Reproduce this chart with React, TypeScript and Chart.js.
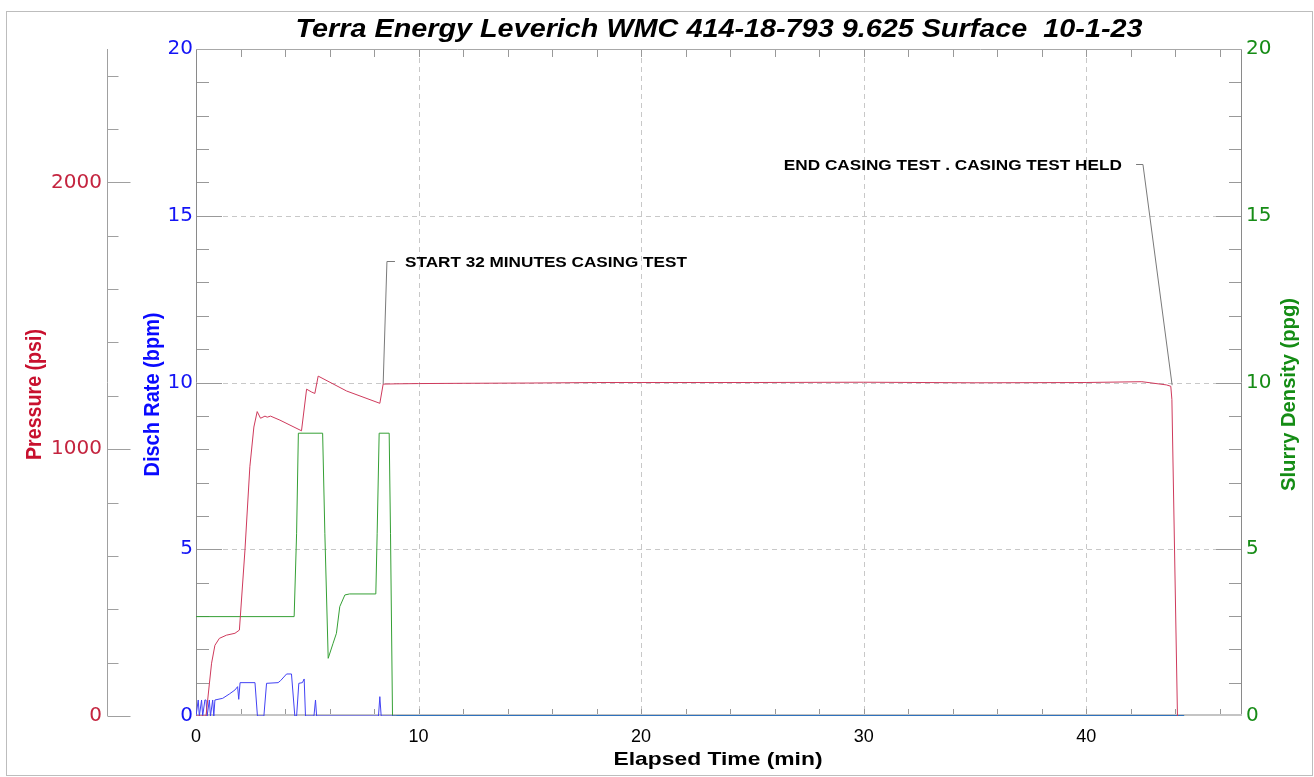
import React, { useEffect, useRef } from 'react';
import { Chart, registerables } from 'chart.js';

Chart.register(...registerables);

const TITLE = 'Terra Energy Leverich WMC 414-18-793 9.625 Surface  10-1-23';
const X_TITLE = 'Elapsed Time (min)';
const PRESSURE_TITLE = 'Pressure (psi)';
const RATE_TITLE = 'Disch Rate (bpm)';
const DENSITY_TITLE = 'Slurry Density (ppg)';

const xTicks = [0, 10, 20, 30, 40];
const pressureTicks = [0, 1000, 2000];
const rateTicks = [0, 5, 10, 15, 20];
const densityTicks = [0, 5, 10, 15, 20];

const pressureTime = [0, 0.45, 0.6, 0.7, 0.85, 1.05, 1.37, 1.75, 1.95, 2.2, 2.42, 2.6, 2.75, 2.9, 3.1, 3.2, 3.35, 3.77, 4.74, 4.97, 5.2, 5.34, 5.49, 6.77, 8.26, 8.41, 9, 10, 12, 15, 18, 20, 25, 30, 35, 40, 42.5, 43.6, 43.8, 43.85, 44.1];
const pressureValues = [0, 0, 120, 198, 265, 291, 303, 310, 322, 622, 934, 1083, 1141, 1116, 1124, 1120, 1124, 1109, 1069, 1225, 1214, 1209, 1274, 1218, 1172, 1244, 1245, 1246, 1247, 1248, 1250, 1250, 1250, 1251, 1249, 1250, 1253, 1241, 1236, 1186, 0];

const rateTime = [0, 0.1, 0.15, 0.25, 0.3, 0.4, 0.45, 0.5, 0.6, 0.65, 0.75, 0.8, 0.85, 1.2, 1.5, 1.75, 1.87, 1.92, 1.98, 2.65, 2.76, 3.05, 3.17, 3.69, 3.8, 4.07, 4.29, 4.44, 4.52, 4.62, 4.78, 4.86, 4.92, 5.3, 5.37, 5.42, 8.2, 8.26, 8.32, 9, 44.4];
const rateValues = [0, 0.48, 0, 0.48, 0, 0.48, 0.48, 0, 0.48, 0, 0.48, 0, 0.48, 0.53, 0.66, 0.78, 0.88, 0.5, 1.0, 1.0, 0, 0, 0.98, 1.0, 1.06, 1.26, 1.26, 0, 0, 0.98, 1.0, 1.11, 0, 0, 0.48, 0, 0, 0.58, 0, 0, 0];

const densityTime = [0, 4.41, 4.52, 4.6, 5.69, 5.79, 5.94, 6.16, 6.31, 6.46, 6.69, 6.9, 8.08, 8.14, 8.23, 8.68, 8.74, 8.83, 44.4];
const densityValues = [2.98, 2.98, 5.48, 8.48, 8.48, 5.48, 1.73, 2.18, 2.48, 3.28, 3.63, 3.66, 3.66, 5.48, 8.48, 8.48, 5.48, 0, 0];

// annotation leaders, in data units (t = minutes, p = psi, r = rate-axis units)
const startNote = { text: 'START 32 MINUTES CASING TEST', anchorT: 8.41, anchorP: 1244, elbowT: 8.58, elbowR: 13.64, endT: 8.94, textT: 9.39 };
const endNote = { text: 'END CASING TEST . CASING TEST HELD', anchorT: 43.86, anchorP: 1240, elbowT: 42.55, elbowR: 16.55, endT: 42.24, textT: 41.6 };

const PRESSURE_COLOR = '#c4243f';
const RATE_COLOR = '#1414f5';
const DENSITY_COLOR = '#168c16';
const SANS = '"Liberation Sans", Arial, sans-serif';
const NARROW = '"Liberation Sans Narrow", "Liberation Sans", Arial, sans-serif';
const WIDE = '"DejaVu Sans", Verdana, sans-serif';

function fitText(ctx: CanvasRenderingContext2D, text: string, x: number, y: number, targetW: number, font: string, color: string, align: CanvasTextAlign, rot = 0) {
  ctx.save();
  ctx.font = font;
  ctx.fillStyle = color;
  ctx.textBaseline = 'alphabetic';
  ctx.textAlign = align;
  const w = ctx.measureText(text).width;
  const sx = w > 0 ? targetW / w : 1;
  ctx.translate(x, y);
  ctx.rotate(rot);
  ctx.scale(sx, 1);
  ctx.fillText(text, 0, 0);
  ctx.restore();
}

function seg(ctx: CanvasRenderingContext2D, x1: number, y1: number, x2: number, y2: number) {
  ctx.beginPath();
  ctx.moveTo(x1, y1);
  ctx.lineTo(x2, y2);
  ctx.stroke();
}

const decorPlugin = {
  id: 'decor',
  beforeDraw(chart: any) {
    const { ctx, width, height } = chart;
    ctx.save();
    ctx.fillStyle = '#ffffff';
    ctx.fillRect(0, 0, width, height);
    ctx.restore();
  },
  beforeDatasetsDraw(chart: any) {
    const { ctx, chartArea: a, scales } = chart;
    const x = scales.x, yR = scales.yR, yP = scales.yP;
    const L = Math.round(a.left) + 0.5, R = Math.round(a.right) - 0.5;
    const T = Math.round(a.top) + 0.5, B = Math.round(a.bottom) - 0.5;
    ctx.save();
    ctx.lineWidth = 1;
    // dashed grid
    ctx.strokeStyle = '#c8c8c8';
    ctx.setLineDash([5, 4]);
    xTicks.filter(v => v > 0).forEach(v => {
      const px = Math.round(x.getPixelForValue(v)) + 0.5;
      seg(ctx, px, a.top, px, a.bottom);
    });
    rateTicks.filter(v => v > 0 && v < 20).forEach(v => {
      const py = Math.round(yR.getPixelForValue(v)) + 0.5;
      seg(ctx, a.left, py, a.right, py);
    });
    ctx.setLineDash([]);
    // tick marks
    ctx.strokeStyle = '#999999';
    for (let t = 2; t < 47; t += 2) {
      const px = Math.round(x.getPixelForValue(t)) + 0.5;
      seg(ctx, px, a.top, px, a.top + 8);
      seg(ctx, px, a.bottom, px, a.bottom - 7);
    }
    for (let v = 1; v < 20; v++) {
      const py = Math.round(yR.getPixelForValue(v)) + 0.5;
      const len = v % 5 === 0 ? 26 : 13;
      seg(ctx, a.left, py, a.left + len, py);
      seg(ctx, a.right, py, a.right - len, py);
    }
    // pressure axis
    const pxAxis = Math.round(yP.right) + 0.5;
    ctx.strokeStyle = '#a0a0a0';
    seg(ctx, pxAxis, yP.getPixelForValue(2500), pxAxis, yP.getPixelForValue(0));
    for (let v = 0; v <= 2400; v += 200) {
      const py = Math.round(yP.getPixelForValue(v)) + 0.5;
      const len = v % 1000 === 0 ? 23 : 11;
      seg(ctx, pxAxis, py, pxAxis + len, py);
    }
    // plot frame
    ctx.strokeStyle = '#8a8a8a';
    seg(ctx, L, a.top, L, a.bottom);
    seg(ctx, R, a.top, R, a.bottom);
    ctx.strokeStyle = '#a8a8a8';
    seg(ctx, a.left, T, a.right, T);
    ctx.strokeStyle = '#c4c4c4';
    ctx.lineWidth = 2;
    seg(ctx, a.left, B - 0.5, a.right, B - 0.5);
    ctx.restore();
  },
  afterDraw(chart: any) {
    const { ctx, chartArea: a, scales, width, height } = chart;
    const x = scales.x, yR = scales.yR, yP = scales.yP;
    ctx.save();
    // outer border
    ctx.strokeStyle = '#bdbdbd';
    ctx.lineWidth = 1;
    ctx.strokeRect(6.5, 11.5, width - 8, height - 13);
    // title
    const cx = (a.left + a.right) / 2;
    fitText(ctx, TITLE, cx, 37, 847, `italic bold 25px ${SANS}`, '#000', 'center');
    fitText(ctx, X_TITLE, cx - 1, 765, 209, `bold 19px ${NARROW}`, '#000', 'center');
    const cy = (a.top + a.bottom) / 2 + 12;
    fitText(ctx, PRESSURE_TITLE, 41, cy, 131, `bold 22px ${NARROW}`, '#c8102e', 'center', -Math.PI / 2);
    fitText(ctx, RATE_TITLE, 159, cy, 164, `bold 22px ${NARROW}`, '#0a0aff', 'center', -Math.PI / 2);
    fitText(ctx, DENSITY_TITLE, 1295, cy, 193, `bold 21px ${NARROW}`, '#148c14', 'center', -Math.PI / 2);
    // annotations
    ctx.strokeStyle = '#7a7a7a';
    ctx.lineWidth = 1;
    const notes = [startNote, endNote];
    notes.forEach((n, i) => {
      const ax = x.getPixelForValue(n.anchorT), ay = yP.getPixelForValue(n.anchorP);
      const ex = x.getPixelForValue(n.elbowT), ey = Math.round(yR.getPixelForValue(n.elbowR)) + 0.5;
      const hx = x.getPixelForValue(n.endT);
      ctx.beginPath();
      ctx.moveTo(ax, ay);
      ctx.lineTo(ex, ey);
      ctx.lineTo(hx, ey);
      ctx.stroke();
      const tx = x.getPixelForValue(n.textT);
      const w = i === 0 ? 282 : 338;
      fitText(ctx, n.text, tx, ey + 5.5, w, `bold 15px ${SANS}`, '#000', i === 0 ? 'left' : 'right');
    });
    ctx.restore();
  },
};

const toPts = (ts: number[], vs: number[]) => ts.map((t, i) => ({ x: t, y: vs[i] }));

export default function App() {
  const ref = useRef<HTMLCanvasElement | null>(null);
  useEffect(() => {
    if (!ref.current) return;
    const chart = new Chart(ref.current, {
      type: 'line',
      data: {
        datasets: [
          {
            label: 'Pressure',
            data: toPts(pressureTime, pressureValues),
            yAxisID: 'yP',
            borderColor: '#cf3a5c',
            borderWidth: 1,
            pointRadius: 0,
            tension: 0,
          },
          {
            label: 'Disch Rate',
            data: toPts(rateTime, rateValues),
            yAxisID: 'yR',
            borderColor: '#4242f4',
            borderWidth: 1,
            pointRadius: 0,
            tension: 0,
            segment: {
              borderColor: (c: any) => (c.p0.parsed.x >= 8.8 ? '#2f72bd' : undefined),
              borderWidth: (c: any) => (c.p0.parsed.x >= 8.8 ? 2 : undefined),
            },
          },
          {
            label: 'Slurry Density',
            data: toPts(densityTime, densityValues),
            yAxisID: 'yD',
            borderColor: '#35a035',
            borderWidth: 1,
            pointRadius: 0,
            tension: 0,
          },
        ],
      } as any,
      options: {
        animation: false,
        responsive: false,
        devicePixelRatio: 1,
        events: [],
        layout: { padding: { top: 49, left: 0, right: 0, bottom: 0 } },
        plugins: { legend: { display: false }, title: { display: false }, tooltip: { enabled: false } },
        scales: {
          x: {
            type: 'linear',
            position: 'bottom',
            min: 0,
            max: 47,
            grid: { display: false, drawTicks: false },
            border: { display: false },
            afterBuildTicks: (s: any) => { s.ticks = xTicks.map(v => ({ value: v })); },
            afterFit: (s: any) => { s.height = 61; },
            ticks: { color: '#000', font: { family: NARROW, size: 18 }, padding: 10, maxRotation: 0, autoSkip: false, callback: (v: any) => String(v) },
          },
          yP: {
            type: 'linear',
            position: 'left',
            weight: 10,
            min: 0,
            max: 2500,
            grid: { display: false, drawTicks: false },
            border: { display: false },
            afterBuildTicks: (s: any) => { s.ticks = pressureTicks.map(v => ({ value: v })); },
            afterFit: (s: any) => { s.width = 107; },
            ticks: { color: PRESSURE_COLOR, font: { family: WIDE, size: 20 }, padding: 5, callback: (v: any) => String(v) },
          },
          yR: {
            type: 'linear',
            position: 'left',
            weight: 0,
            min: 0,
            max: 20,
            grid: { display: false, drawTicks: false },
            border: { display: false },
            afterBuildTicks: (s: any) => { s.ticks = rateTicks.map(v => ({ value: v })); },
            afterFit: (s: any) => { s.width = 89; },
            ticks: { color: RATE_COLOR, font: { family: WIDE, size: 20 }, padding: 3, callback: (v: any) => String(v) },
          },
          yD: {
            type: 'linear',
            position: 'right',
            min: 0,
            max: 20,
            grid: { display: false, drawTicks: false },
            border: { display: false },
            afterBuildTicks: (s: any) => { s.ticks = densityTicks.map(v => ({ value: v })); },
            afterFit: (s: any) => { s.width = 72; },
            ticks: { color: DENSITY_COLOR, font: { family: WIDE, size: 20 }, padding: 4, callback: (v: any) => String(v) },
          },
        },
      } as any,
      plugins: [decorPlugin],
    });
    return () => chart.destroy();
  }, []);
  return (
    <div style={{ position: 'absolute', left: 0, top: 0, width: 1314, height: 777, background: '#fff' }}>
      <canvas ref={ref} width={1314} height={777} style={{ width: 1314, height: 777, display: 'block' }} />
    </div>
  );
}
